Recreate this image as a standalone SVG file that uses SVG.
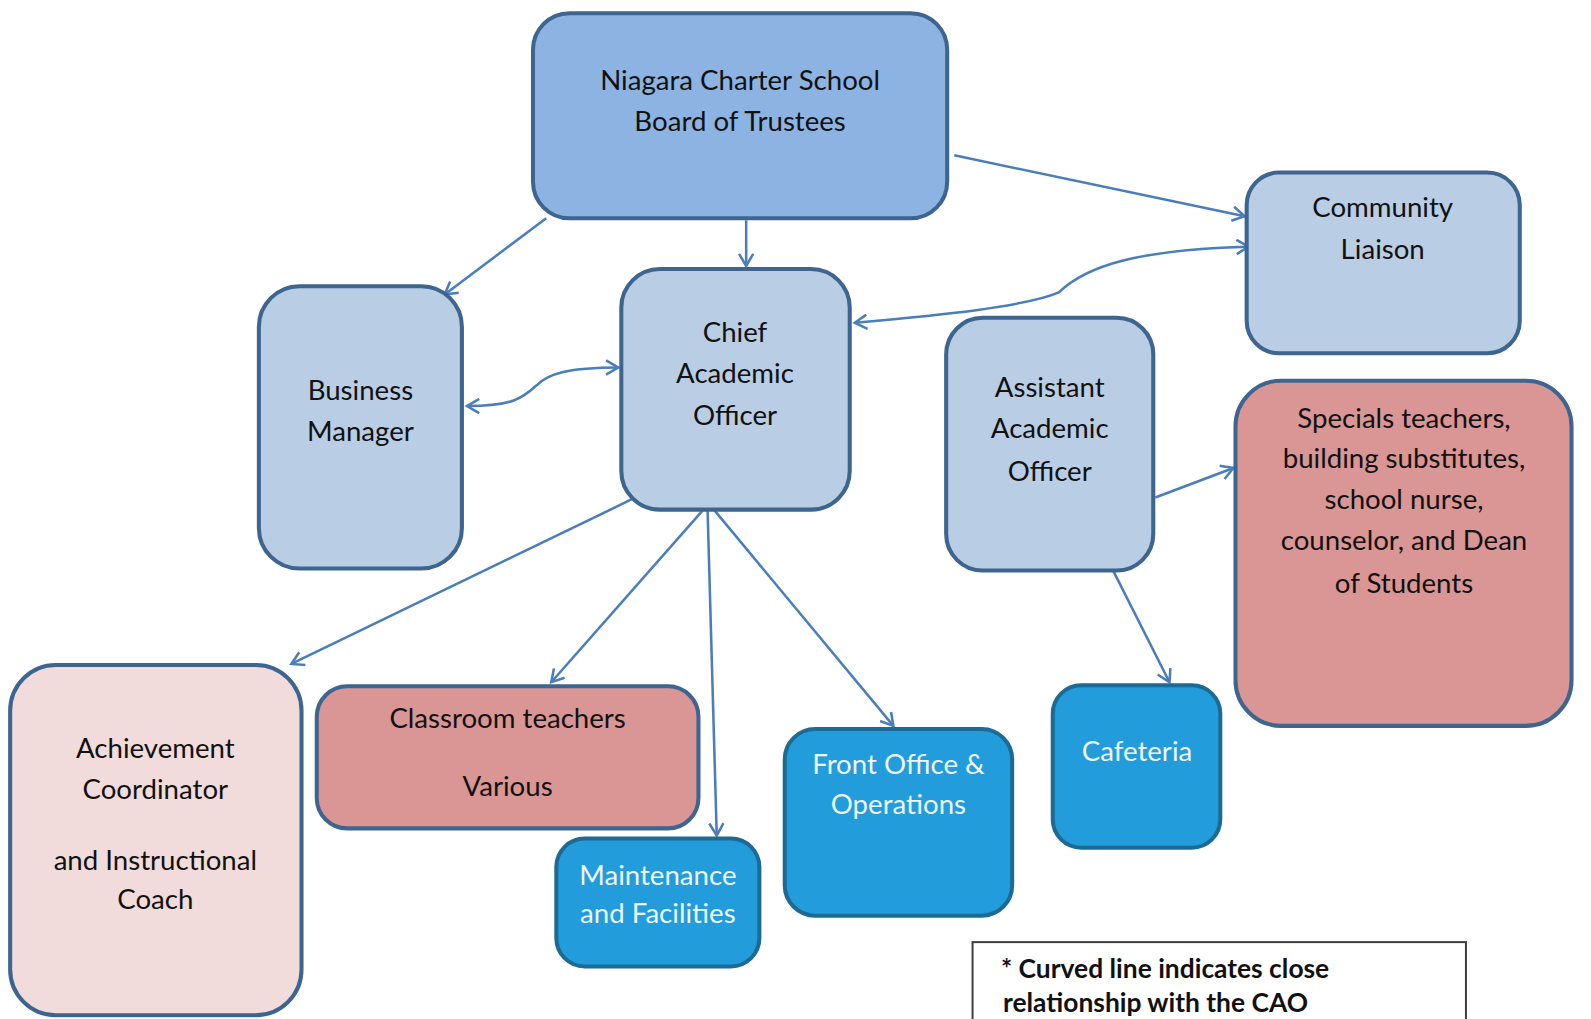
<svg xmlns="http://www.w3.org/2000/svg" width="1591" height="1019" viewBox="0 0 1591 1019">
<defs>
<style>
.n{stroke:#3d6590;stroke-width:4}
.lt{fill:#b9cde5}
.bd{fill:#8db3e2}
.rd{fill:#d99694}
.pk{fill:#f2dcdb}
.dk{fill:#229cda;stroke:#1d6a95;stroke-width:4}
text{font-family:Lato,"Open Sans","Liberation Sans",sans-serif;font-size:27.2px;text-anchor:middle;fill:#111}
.w{fill:#eef6fb}
.lg{font-weight:bold;text-anchor:start;font-size:26px}
.c{fill:none;stroke:#4a7ebb;stroke-width:2.5}
</style>
<marker id="a" markerWidth="16" markerHeight="16" refX="13" refY="8" orient="auto-start-reverse" markerUnits="userSpaceOnUse">
<path d="M1,1 L13,8 L1,15" fill="none" stroke="#4a7ebb" stroke-width="2.5"/>
</marker>
</defs>
<rect width="1591" height="1019" fill="#ffffff"/>
<g id="diagram" transform="scale(1.0152)">
<g id="connectors">
<line class="c" x1="940" y1="153" x2="1226" y2="213" marker-end="url(#a)"/>
<line class="c" x1="735" y1="217" x2="735" y2="262" marker-end="url(#a)"/>
<line class="c" x1="538" y1="215" x2="438" y2="290" marker-end="url(#a)"/>
<path class="c" d="M460,400 C505,400 515,392 528,380 C540,368 560,362 609,362" marker-start="url(#a)" marker-end="url(#a)"/>
<path class="c" d="M842,318 C930,310 1010,302 1043,288 C1070,262 1120,246 1230,243" marker-start="url(#a)" marker-end="url(#a)"/>
<line class="c" x1="1138" y1="490" x2="1215" y2="461" marker-end="url(#a)"/>
<line class="c" x1="1097" y1="563" x2="1152" y2="672" marker-end="url(#a)"/>
<line class="c" x1="622" y1="492" x2="287" y2="654" marker-end="url(#a)"/>
<line class="c" x1="692" y1="503" x2="543" y2="672" marker-end="url(#a)"/>
<line class="c" x1="697" y1="503" x2="706" y2="823" marker-end="url(#a)"/>
<line class="c" x1="704" y1="503" x2="880" y2="715" marker-end="url(#a)"/>
</g>
<g id="board">
<rect class="n bd" x="525" y="13" width="408" height="202" rx="36"/>
<text x="729" y="89">Niagara Charter School</text>
<text x="729" y="129">Board of Trustees</text>
</g>
<g id="community">
<rect class="n lt" x="1228" y="170" width="269" height="178" rx="32"/>
<text x="1362" y="214">Community</text>
<text x="1362" y="255">Liaison</text>
</g>
<g id="business">
<rect class="n lt" x="255" y="282" width="200" height="278" rx="40"/>
<text x="355" y="394">Business</text>
<text x="355" y="434">Manager</text>
</g>
<g id="cao">
<rect class="n lt" x="612" y="265" width="225" height="237" rx="38"/>
<text x="724" y="337">Chief</text>
<text x="724" y="377">Academic</text>
<text x="724" y="419">Officer</text>
</g>
<g id="aao">
<rect class="n lt" x="932" y="313" width="204" height="249" rx="36"/>
<text x="1034" y="391">Assistant</text>
<text x="1034" y="431">Academic</text>
<text x="1034" y="474">Officer</text>
</g>
<g id="specials">
<rect class="n rd" x="1217" y="375" width="331" height="340" rx="45"/>
<text x="1383" y="422">Specials teachers,</text>
<text x="1383" y="461">building substitutes,</text>
<text x="1383" y="501">school nurse,</text>
<text x="1383" y="542">counselor, and Dean</text>
<text x="1383" y="584">of Students</text>
</g>
<g id="achievement">
<rect class="n pk" x="10" y="655" width="287" height="345" rx="45"/>
<text x="153" y="747">Achievement</text>
<text x="153" y="787">Coordinator</text>
<text x="153" y="857">and Instructional</text>
<text x="153" y="895">Coach</text>
</g>
<g id="classroom">
<rect class="n rd" x="312" y="676" width="376" height="140" rx="30"/>
<text x="500" y="717">Classroom teachers</text>
<text x="500" y="784">Various</text>
</g>
<g id="maintenance">
<rect class="dk" x="548" y="826" width="200" height="126" rx="28"/>
<text class="w" x="648" y="872">Maintenance</text>
<text class="w" x="648" y="909">and Facilities</text>
</g>
<g id="frontoffice">
<rect class="dk" x="773" y="718" width="224" height="184" rx="30"/>
<text class="w" x="885" y="762">Front Office &amp;</text>
<text class="w" x="885" y="802">Operations</text>
</g>
<g id="cafeteria">
<rect class="dk" x="1037" y="675" width="165" height="160" rx="28"/>
<text class="w" x="1120" y="750">Cafeteria</text>
</g>
<g id="legend">
<rect x="958" y="928" width="486" height="110" fill="#ffffff" stroke="#404040" stroke-width="2"/>
<text class="lg" x="986" y="963">* Curved line indicates close</text>
<text class="lg" x="988" y="997">relationship with the CAO</text>
</g>
</g>
</svg>
